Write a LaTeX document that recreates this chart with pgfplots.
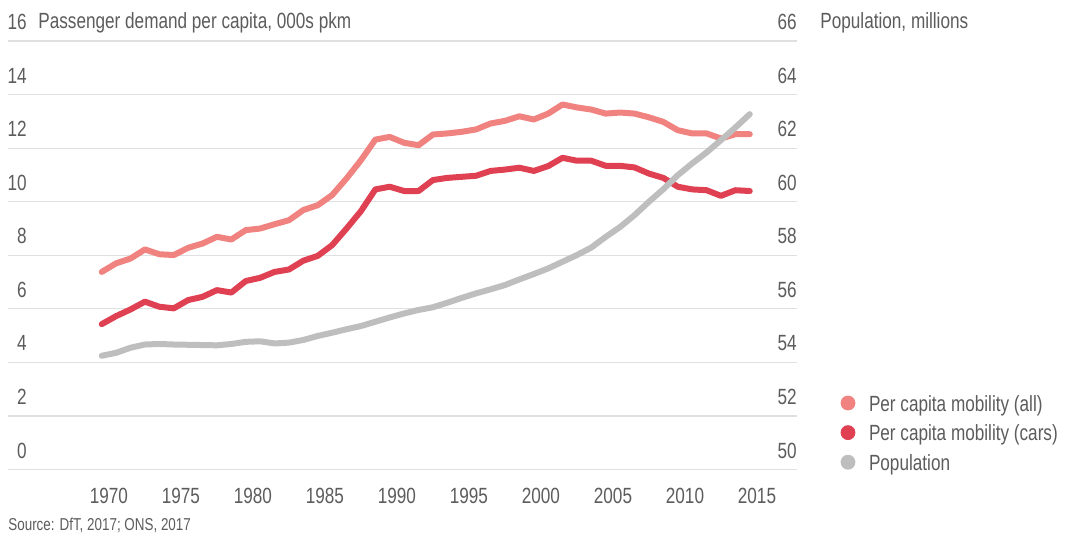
\documentclass[border=0pt]{standalone}
\usepackage{fontspec}
\setmainfont{Liberation Sans}[FakeStretch=0.78]
\usepackage{pgfplots}
\usepackage{pgfplotstable}
\pgfplotsset{compat=1.18}
\definecolor{cAll}{RGB}{240,131,128}
\definecolor{cCars}{RGB}{223,65,82}
\definecolor{cPop}{RGB}{190,190,190}
\definecolor{txt}{RGB}{92,92,92}
\definecolor{grd}{RGB}{224,224,224}
\pgfplotstableread{
year all cars pop
1970 7.38 5.43 54.25
1971 7.70 5.73 54.36
1972 7.88 5.98 54.55
1973 8.22 6.27 54.67
1974 8.04 6.08 54.69
1975 8.01 6.02 54.67
1976 8.28 6.33 54.66
1977 8.44 6.45 54.65
1978 8.69 6.70 54.64
1979 8.59 6.61 54.69
1980 8.94 7.04 54.77
1981 9.00 7.16 54.79
1982 9.16 7.38 54.71
1983 9.31 7.47 54.74
1984 9.69 7.80 54.84
1985 9.87 7.98 54.99
1986 10.25 8.38 55.11
1987 10.87 9.00 55.24
1988 11.55 9.65 55.36
1989 12.32 10.46 55.52
1990 12.42 10.56 55.68
1991 12.20 10.40 55.83
1992 12.11 10.40 55.96
1993 12.51 10.81 56.06
1994 12.55 10.89 56.23
1995 12.61 10.93 56.41
1996 12.70 10.97 56.58
1997 12.92 11.15 56.73
1998 13.02 11.20 56.89
1999 13.19 11.27 57.10
2000 13.07 11.15 57.30
2001 13.29 11.33 57.51
2002 13.63 11.64 57.76
2003 13.52 11.53 58.01
2004 13.44 11.53 58.29
2005 13.29 11.34 58.69
2006 13.33 11.34 59.06
2007 13.29 11.28 59.50
2008 13.15 11.05 60.00
2009 12.98 10.89 60.47
2010 12.67 10.56 60.99
2011 12.55 10.46 61.43
2012 12.55 10.43 61.84
2013 12.36 10.22 62.30
2014 12.52 10.43 62.77
2015 12.52 10.40 63.27
}\datatable
\begin{document}
\begin{tikzpicture}
\useasboundingbox (-4pt,-34.2pt) rectangle (529pt,234.8pt);
\pgfplotsset{
  common/.style={
    at={(0,0)}, anchor=south west,
    scale only axis, width=394.5pt, height=214.3pt,
    xmin=1963.49, xmax=2018.28,
    axis line style={draw=none}, tick style={draw=none},
    major tick length=0pt,
    /pgf/number format/assume math mode=true,
    ticklabel style={font=\fontsize{11}{13}\selectfont, text=txt},
    clip=false,
  },
  dot/.style={legend image code/.code={%
    \path[draw=none, fill=none] (0pt,0pt) rectangle (7pt,7pt);
    \fill[##1, overlay] (3.5pt,0.6pt) circle (3.5pt);}},
}
\begin{axis}[common,
  ymin=0, ymax=16, ytick={0,2,...,16},
  ymajorgrids, grid style={grd, line width=0.6pt},
  yticklabel style={anchor=base east, inner sep=0pt, xshift=9.5pt, yshift=5.75pt},
  xtick={1970.5,1975.5,1980.5,1985.5,1990.5,1995.5,2000.5,2005.5,2010.5,2015.5},
  xticklabels={1970,1975,1980,1985,1990,1995,2000,2005,2010,2015},
  xticklabel style={anchor=base, inner sep=0pt, yshift=-16.7pt},
]
\addplot[cAll, line width=3pt, line join=round, line cap=round] table[x=year, y=all] {\datatable};
\addplot[cCars, line width=3pt, line join=round, line cap=round] table[x=year, y=cars] {\datatable};
\end{axis}
\begin{axis}[common,
  ymin=50, ymax=66, ytick={50,52,...,66},
  xtick=\empty,
  yticklabel pos=right,
  yticklabel style={anchor=base east, inner sep=0pt, yshift=5.75pt},
  legend style={at={(axis description cs:1,0)}, anchor=south west, xshift=22pt, yshift=-0.4pt,
    draw=none, fill=none, inner sep=0pt, outer sep=0pt, row sep=4.3pt, column sep=7pt,
    nodes={inner sep=0pt, text height=7pt, text depth=0pt, text=txt, font=\fontsize{11}{13}\selectfont}},
  legend cell align=left,
]
\addlegendimage{dot, cAll}
\addlegendentry{Per capita mobility (all)}
\addlegendimage{dot, cCars}
\addlegendentry{Per capita mobility (cars)}
\addlegendimage{dot, cPop}
\addlegendentry{Population}
\addplot[cPop, line width=3pt, line join=round, line cap=round, forget plot] table[x=year, y=pop] {\datatable};
\end{axis}
\node[anchor=base west, inner sep=0pt, text=txt, font=\fontsize{11}{13}\selectfont] at (15pt,220.65pt) {Passenger demand per capita, 000s pkm};
\node[anchor=base west, inner sep=0pt, text=txt, font=\fontsize{11}{13}\selectfont] at (406pt,220.65pt) {Population, millions};
\node[anchor=base west, inner sep=0pt, text=txt, font=\fontsize{8.6}{10}\selectfont] at (0pt,-30.5pt) {Source: DfT, 2017; ONS, 2017};
\end{tikzpicture}
\end{document}
